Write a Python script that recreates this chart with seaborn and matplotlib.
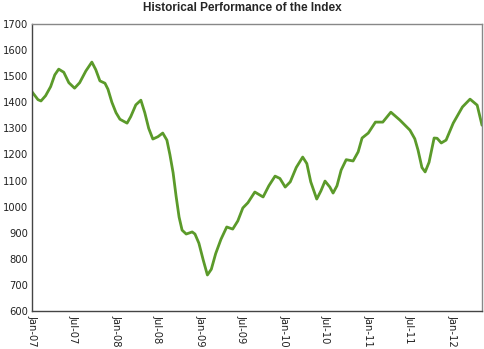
import matplotlib
matplotlib.use("Agg")
import matplotlib.pyplot as plt
import seaborn as sns
import pandas as pd

dates = ["2007-01-01","2007-01-27","2007-02-09","2007-03-01","2007-03-23","2007-04-10",
         "2007-04-27","2007-05-19","2007-06-10","2007-07-05","2007-07-27","2007-08-23",
         "2007-09-18","2007-10-05","2007-10-23","2007-11-14","2007-11-27","2007-12-14",
         "2008-01-01","2008-01-18","2008-02-18","2008-03-05","2008-03-27","2008-04-18",
         "2008-05-05","2008-05-22","2008-06-09","2008-07-01","2008-07-22","2008-08-09",
         "2008-08-22","2008-09-05","2008-09-18","2008-10-01","2008-10-14","2008-11-01",
         "2008-11-27","2008-12-09","2008-12-26","2009-01-14","2009-02-01","2009-02-18",
         "2009-03-09","2009-04-01","2009-04-26","2009-05-22","2009-06-13","2009-07-05",
         "2009-07-27","2009-08-26","2009-10-01","2009-10-26","2009-11-22","2009-12-13",
         "2010-01-05","2010-01-27","2010-02-22","2010-03-22","2010-04-09","2010-04-26",
         "2010-05-22","2010-06-09","2010-06-27","2010-07-18","2010-08-01","2010-08-18",
         "2010-09-05","2010-09-27","2010-10-27","2010-11-18","2010-12-05","2011-01-01",
         "2011-02-01","2011-03-05","2011-04-09","2011-05-18","2011-07-01","2011-07-22",
         "2011-08-05","2011-08-22","2011-09-05","2011-09-22","2011-10-14","2011-10-27",
         "2011-11-14","2011-12-05","2012-01-05","2012-02-14","2012-03-18","2012-04-18",
         "2012-05-09"]
values = [1440,1410,1405,1425,1460,1505,
          1527,1515,1475,1454,1475,1520,
          1554,1525,1482,1473,1450,1400,
          1360,1335,1320,1345,1390,1408,
          1360,1300,1259,1268,1282,1255,
          1200,1130,1040,960,910,895,
          903,895,860,795,738,760,
          820,875,922,914,945,995,
          1015,1056,1037,1080,1117,1108,
          1075,1095,1150,1190,1165,1095,
          1029,1060,1098,1075,1052,1080,
          1140,1180,1175,1210,1263,1282,
          1324,1324,1362,1332,1293,1260,
          1217,1150,1133,1170,1263,1262,
          1244,1255,1320,1382,1412,1389,
          1312]
tick_dates = ["2007-01-01","2007-07-01","2008-01-01","2008-07-01","2009-01-01","2009-07-01",
              "2010-01-01","2010-07-01","2011-01-01","2011-07-01","2012-01-01"]
tick_labels = ["Jan-07","Jul-07","Jan-08","Jul-08","Jan-09","Jul-09",
               "Jan-10","Jul-10","Jan-11","Jul-11","Jan-12"]
y_ticks = [600,700,800,900,1000,1100,1200,1300,1400,1500,1600,1700]

df = pd.DataFrame({"date": pd.to_datetime(dates), "value": values})

sns.set_style("white")
plt.rcParams['font.family'] = ['DejaVu Sans']

fig = plt.figure(figsize=(4.84, 3.49), dpi=100)
ax = fig.add_axes([32/484, 1-311/349, 450/484, 287/349])
sns.lineplot(data=df, x="date", y="value", ax=ax, color="#5B9A2A", linewidth=2.0)
ax.lines[0].set_solid_joinstyle("round")
ax.lines[0].set_solid_capstyle("round")

ax.set_xlim(pd.Timestamp("2007-01-01"), pd.Timestamp("2012-05-09"))
ax.set_ylim(600, 1700)
ax.set_yticks(y_ticks)
ax.set_yticklabels([str(v) for v in y_ticks], fontsize=7.2, color="#222222")
ax.set_xticks(pd.to_datetime(tick_dates))
ax.set_xticklabels(tick_labels, rotation=270, fontsize=7.2, color="#222222", ha="center", va="top")
ax.set_xlabel("")
ax.set_ylabel("")
ax.tick_params(axis="both", direction="out", length=2.5, width=0.8, color="#444444", pad=0.5)
for name, sp in ax.spines.items():
    sp.set_visible(True)
    sp.set_linewidth(1.0)
    sp.set_color("#444444" if name in ("left", "bottom") else "#888888")

fig.text(0.5, 1-8/349, "Historical Performance of the Index", ha="center", va="center",
         fontsize=8.5, fontweight="bold", family=["Liberation Sans", "DejaVu Sans"])

fig.savefig("out.png", dpi=100)
